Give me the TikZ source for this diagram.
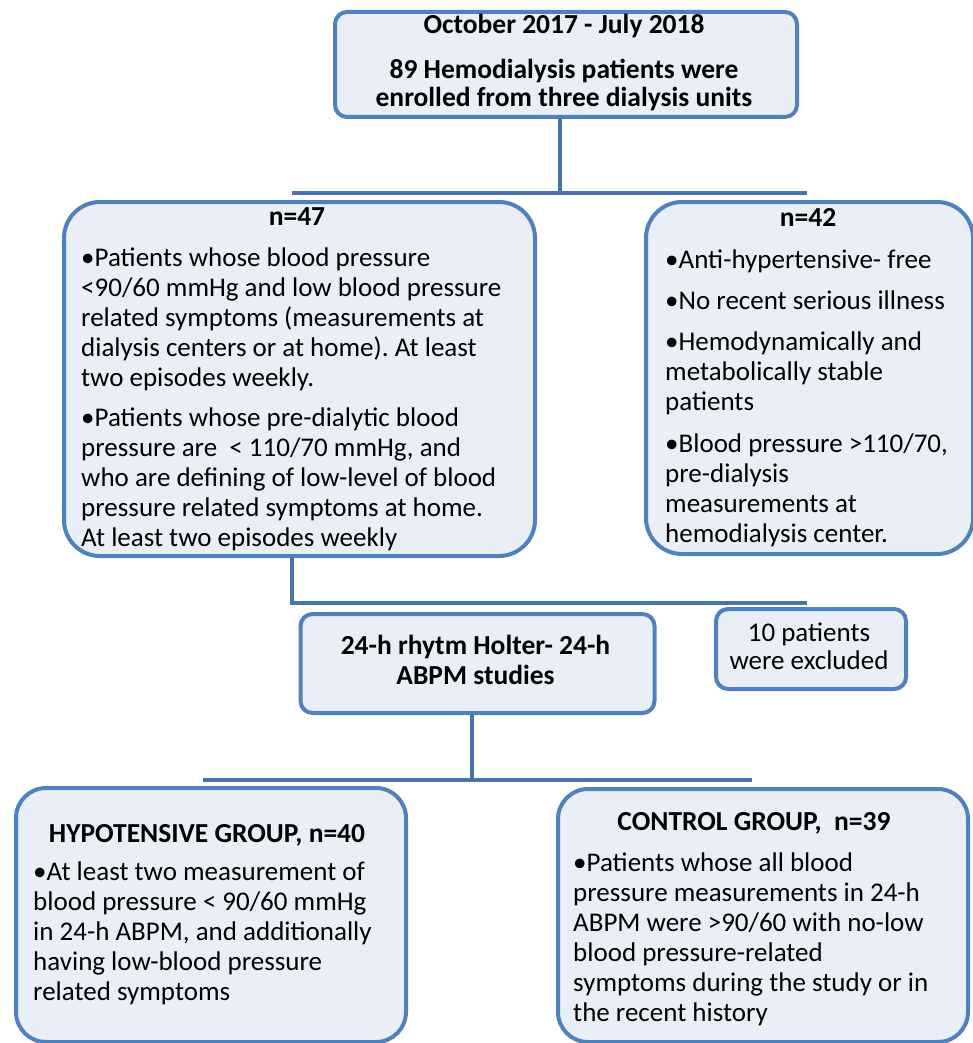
\documentclass[tikz,border=0pt]{standalone}
\usepackage{fontspec}
\setmainfont{Carlito}
\frenchspacing
\definecolor{bordc}{HTML}{4F81BD}
\definecolor{connc}{HTML}{4A74A8}
\definecolor{fillc}{HTML}{EAEFF7}
\tikzset{
  box/.style={draw=bordc, fill=fillc, line width=4pt, rectangle, anchor=north west, inner sep=0pt},
  conn/.style={draw=connc, line width=4.5pt},
  body/.style={font=\fontsize{27}{30}\selectfont, align=left, anchor=north west, inner sep=0pt, text=black},
  head/.style={font=\fontsize{27.5}{30}\selectfont\bfseries, anchor=base, inner sep=0pt, text=black}
}
\begin{document}
\begin{tikzpicture}[x=1pt,y=-1pt]
\useasboundingbox (0,0) rectangle (973,1043);
% boxes
\node[box, rounded corners=12pt, minimum width=462pt, minimum height=105pt] (top) at (333,10) {};
\node[box, rounded corners=36pt, minimum width=471pt, minimum height=354pt] (n47) at (62,200) {};
\node[box, rounded corners=36pt, minimum width=327pt, minimum height=352pt] (n42) at (644,200) {};
\node[box, rounded corners=12pt, minimum width=354pt, minimum height=99pt] (mid) at (298.5,612) {};
\node[box, rounded corners=12pt, minimum width=190pt, minimum height=80pt] (excl) at (714,607) {};
\node[box, rounded corners=30pt, minimum width=390pt, minimum height=254pt] (hypo) at (14,786) {};
\node[box, rounded corners=30pt, minimum width=410pt, minimum height=253pt] (ctrl) at (556,787) {};
% connector junctions
\coordinate (j1) at (560,193);
\coordinate (j1l) at (292,193);
\coordinate (j1r) at (807,193);
\coordinate (j2) at (292,603);
\coordinate (j2r) at (807,603);
\coordinate (j3) at (472,780);
\coordinate (j3l) at (203,780);
\coordinate (j3r) at (752,780);
\draw[conn] (j1 |- top.south) -- (j1);
\draw[conn] (j1l) -- (j1r);
\draw[conn] (j2 |- n47.south) -- (j2) -- (j2r);
\draw[conn] (j3 |- mid.south) -- (j3);
\draw[conn] (j3l) -- (j3r);
% top box text
\node[head] (tophead) at (564,34) {October 2017 - July 2018};
\node[font=\fontsize{27.5}{26}\selectfont\bfseries, align=center, anchor=north, inner sep=0pt] (toptext) at (564,58.8) {\strut 89 Hemodialysis patients were\\enrolled from three dialysis units};
% n=47
\node[head] (h47) at (297,225) {n=47};
\node[body] (p47a) at (81,245) {\strut •Patients whose blood pressure\\<90/60 mmHg and low blood pressure\\related symptoms (measurements at\\dialysis centers or at home). At least\\two episodes weekly.};
\node[body] (p47b) at (81,405) {\strut •Patients whose pre-dialytic blood\\pressure are\ \ < 110/70 mmHg, and\\who are defining of low-level of blood\\pressure related symptoms at home.\\At least two episodes weekly};
% n=42
\node[head] (h42) at (808,226) {n=42};
\node[body] (p42a) at (665,247) {\strut •Anti-hypertensive- free};
\node[body] (p42b) at (665,288) {\strut •No recent serious illness};
\node[body] (p42c) at (665,329) {\strut •Hemodynamically and\\metabolically stable\\patients};
\node[body] (p42d) at (665,431) {\strut •Blood pressure >110/70,\\pre-dialysis\\measurements at\\hemodialysis center.};
% middle
\node[font=\fontsize{27.5}{30}\selectfont\bfseries, align=center, anchor=north, inner sep=0pt] (midtext) at (475.5,633) {\strut 24-h rhytm Holter- 24-h\\ABPM studies};
\node[font=\fontsize{27}{28}\selectfont, align=center, anchor=north, inner sep=0pt] (excltext) at (809,621.4) {\strut 10 patients\\were excluded};
% bottom
\node[head] (hhypo) at (207,842) {HYPOTENSIVE GROUP, n=40};
\node[body] (phypo) at (33,859) {\strut •At least two measurement of\\blood pressure < 90/60 mmHg\\in 24-h ABPM, and additionally\\having low-blood pressure\\related symptoms};
\node[head] (hctrl) at (754,830) {CONTROL GROUP,\ \ n=39};
\node[body] (pctrl) at (573,850) {\strut •Patients whose all blood\\pressure measurements in 24-h\\ABPM were >90/60 with no-low\\blood pressure-related\\symptoms during the study or in\\the recent history};
\end{tikzpicture}
\end{document}
